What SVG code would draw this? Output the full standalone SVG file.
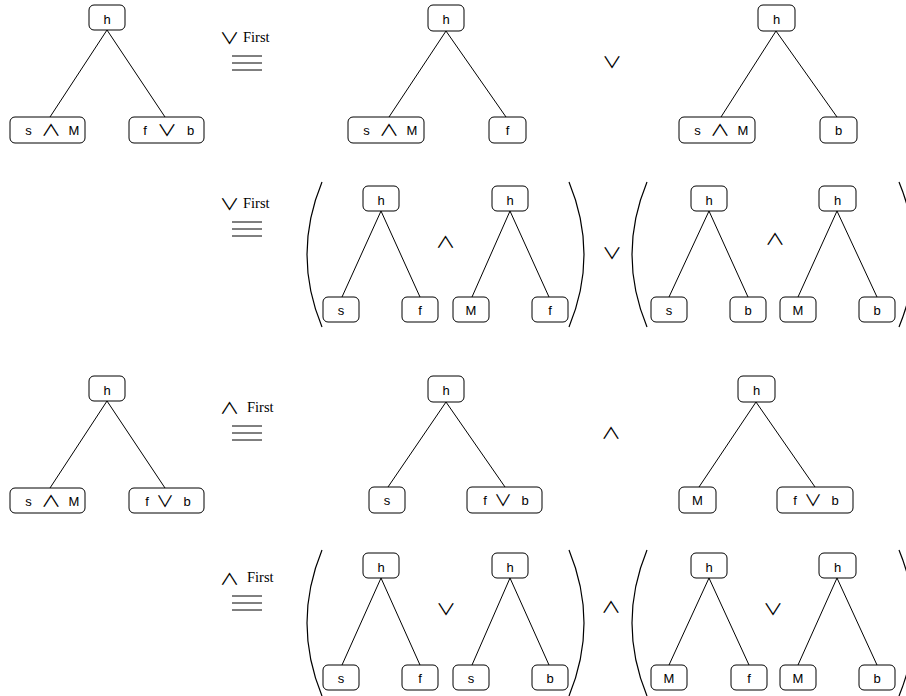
<svg xmlns="http://www.w3.org/2000/svg" width="906" height="696" viewBox="0 0 906 696">
<style>
.box{fill:#fff;stroke:#000;stroke-width:1}
.t{font-family:"Liberation Sans",Arial,sans-serif;font-size:13px;text-anchor:middle;fill:#000}
.o{font-family:"Noto Sans CJK JP","Noto Sans CJK SC","DejaVu Sans",sans-serif;font-size:16px;text-anchor:middle;fill:#000}
.fs{font-family:"Liberation Serif","Times New Roman",serif;font-size:14.5px;fill:#000}
.e{stroke:#000;stroke-width:1;fill:none}
.p{stroke:#000;stroke-width:1.2;fill:none}
</style>
<rect width="906" height="696" fill="#fff"/>
<g id="connectors">
<line class="e" x1="107" y1="30" x2="50" y2="117"/><line class="e" x1="107" y1="30" x2="165" y2="117"/>
<line class="e" x1="446" y1="31" x2="389" y2="117"/><line class="e" x1="446" y1="31" x2="506" y2="117"/>
<line class="e" x1="776" y1="31" x2="721" y2="117"/><line class="e" x1="776" y1="31" x2="837" y2="117"/>
<line class="e" x1="381" y1="211" x2="342" y2="297"/><line class="e" x1="381" y1="211" x2="420" y2="297"/>
<line class="e" x1="510" y1="211" x2="472" y2="297"/><line class="e" x1="510" y1="211" x2="549" y2="297"/>
<line class="e" x1="709" y1="211" x2="669" y2="297"/><line class="e" x1="709" y1="211" x2="748" y2="297"/>
<line class="e" x1="837" y1="211" x2="798" y2="297"/><line class="e" x1="837" y1="211" x2="877" y2="297"/>
<line class="e" x1="107" y1="401" x2="50" y2="488"/><line class="e" x1="107" y1="401" x2="165" y2="488"/>
<line class="e" x1="446" y1="402" x2="388" y2="487"/><line class="e" x1="446" y1="402" x2="505" y2="487"/>
<line class="e" x1="756" y1="402" x2="699" y2="487"/><line class="e" x1="756" y1="402" x2="815" y2="487"/>
<line class="e" x1="381" y1="578" x2="342" y2="665"/><line class="e" x1="381" y1="578" x2="420" y2="665"/>
<line class="e" x1="510" y1="578" x2="472" y2="665"/><line class="e" x1="510" y1="578" x2="549" y2="665"/>
<line class="e" x1="709" y1="578" x2="669" y2="665"/><line class="e" x1="709" y1="578" x2="749" y2="665"/>
<line class="e" x1="837" y1="578" x2="798" y2="665"/><line class="e" x1="837" y1="578" x2="877" y2="665"/>
</g>

<g id="r1a-h"><rect class="box" x="89" y="5" width="36" height="25" rx="5"/><text class="t" x="107" y="24">h</text></g>
<g id="r1a-l"><rect class="box" x="10" y="117" width="75" height="26" rx="5"/><text class="t" x="28.5" y="135">s</text><text class="o" x="51" y="136" textLength="20" lengthAdjust="spacingAndGlyphs">∧</text><text class="t" x="74" y="135">M</text></g>
<g id="r1a-r"><rect class="box" x="129" y="117" width="75" height="26" rx="5"/><text class="t" x="145" y="135">f</text><text class="o" x="167" y="136" textLength="20" lengthAdjust="spacingAndGlyphs">∨</text><text class="t" x="190.5" y="135">b</text></g>
<g id="r1-eq"><text class="o" x="229.5" y="44" textLength="20" lengthAdjust="spacingAndGlyphs">∨</text><text class="fs" x="243" y="42">First</text><line class="e" x1="232" y1="56" x2="262" y2="56"/><line class="e" x1="232" y1="63" x2="262" y2="63"/><line class="e" x1="232" y1="70" x2="262" y2="70"/></g>
<g id="r1b-h"><rect class="box" x="428" y="5" width="36" height="26" rx="5"/><text class="t" x="446" y="24">h</text></g>
<g id="r1b-l"><rect class="box" x="348" y="117" width="76" height="26" rx="5"/><text class="t" x="366.5" y="135">s</text><text class="o" x="389" y="136" textLength="20" lengthAdjust="spacingAndGlyphs">∧</text><text class="t" x="412" y="135">M</text></g>
<g id="r1b-r"><rect class="box" x="489" y="117" width="37" height="26" rx="5"/><text class="t" x="507.5" y="135">f</text></g>
<g id="r1-op"><text class="o" x="612" y="68" textLength="20" lengthAdjust="spacingAndGlyphs">∨</text></g>
<g id="r1c-h"><rect class="box" x="758" y="5" width="37" height="26" rx="5"/><text class="t" x="776.5" y="24">h</text></g>
<g id="r1c-l"><rect class="box" x="679" y="117" width="76" height="26" rx="5"/><text class="t" x="697.5" y="135">s</text><text class="o" x="720" y="136" textLength="20" lengthAdjust="spacingAndGlyphs">∧</text><text class="t" x="743" y="135">M</text></g>
<g id="r1c-r"><rect class="box" x="820" y="117" width="37" height="26" rx="5"/><text class="t" x="838.5" y="135">b</text></g>

<g id="r2-eq"><text class="o" x="229.5" y="210" textLength="20" lengthAdjust="spacingAndGlyphs">∨</text><text class="fs" x="243" y="208">First</text><line class="e" x1="232" y1="222" x2="262" y2="222"/><line class="e" x1="232" y1="229" x2="262" y2="229"/><line class="e" x1="232" y1="236" x2="262" y2="236"/></g>
<g id="r2-parens">
<path class="p" d="M322,182 Q292,254.5 322,327"/>
<path class="p" d="M569,182 Q599,254.5 569,327"/>
<path class="p" d="M647,182 Q617,254.5 647,327"/>
<path class="p" d="M899,182 Q929,254.5 899,327"/>
</g>
<g id="r2a-h"><rect class="box" x="363" y="186" width="36" height="25" rx="5"/><text class="t" x="381" y="205">h</text></g>
<g id="r2a-l"><rect class="box" x="323" y="297" width="36" height="25" rx="5"/><text class="t" x="341" y="315">s</text></g>
<g id="r2a-r"><rect class="box" x="402" y="297" width="36" height="25" rx="5"/><text class="t" x="420" y="315">f</text></g>
<g id="r2-op1"><text class="o" x="445.5" y="248" textLength="20" lengthAdjust="spacingAndGlyphs">∧</text></g>
<g id="r2b-h"><rect class="box" x="492" y="186" width="36" height="25" rx="5"/><text class="t" x="510" y="205">h</text></g>
<g id="r2b-l"><rect class="box" x="453" y="297" width="36" height="25" rx="5"/><text class="t" x="471" y="315">M</text></g>
<g id="r2b-r"><rect class="box" x="532" y="297" width="36" height="25" rx="5"/><text class="t" x="550" y="315">f</text></g>
<g id="r2-op2"><text class="o" x="612" y="259" textLength="20" lengthAdjust="spacingAndGlyphs">∨</text></g>
<g id="r2c-h"><rect class="box" x="691" y="186" width="36" height="25" rx="5"/><text class="t" x="709" y="205">h</text></g>
<g id="r2c-l"><rect class="box" x="651" y="297" width="36" height="25" rx="5"/><text class="t" x="669" y="315">s</text></g>
<g id="r2c-r"><rect class="box" x="730" y="297" width="36" height="25" rx="5"/><text class="t" x="748" y="315">b</text></g>
<g id="r2-op3"><text class="o" x="775" y="245" textLength="20" lengthAdjust="spacingAndGlyphs">∧</text></g>
<g id="r2d-h"><rect class="box" x="819" y="186" width="37" height="25" rx="5"/><text class="t" x="837.5" y="205">h</text></g>
<g id="r2d-l"><rect class="box" x="780" y="297" width="36" height="25" rx="5"/><text class="t" x="798" y="315">M</text></g>
<g id="r2d-r"><rect class="box" x="859" y="297" width="36" height="25" rx="5"/><text class="t" x="877" y="315">b</text></g>

<g id="r3a-h"><rect class="box" x="89" y="376" width="36" height="25" rx="5"/><text class="t" x="107" y="395">h</text></g>
<g id="r3a-l"><rect class="box" x="10" y="488" width="75" height="25" rx="5"/><text class="t" x="28.5" y="506">s</text><text class="o" x="51" y="507" textLength="20" lengthAdjust="spacingAndGlyphs">∧</text><text class="t" x="74" y="506">M</text></g>
<g id="r3a-r"><rect class="box" x="129" y="488" width="75" height="25" rx="5"/><text class="t" x="147" y="506">f</text><text class="o" x="165" y="507" textLength="18" lengthAdjust="spacingAndGlyphs">∨</text><text class="t" x="187" y="506">b</text></g>
<g id="r3-eq"><text class="o" x="229.5" y="414" textLength="20" lengthAdjust="spacingAndGlyphs">∧</text><text class="fs" x="247" y="412">First</text><line class="e" x1="232" y1="426" x2="262" y2="426"/><line class="e" x1="232" y1="433" x2="262" y2="433"/><line class="e" x1="232" y1="440" x2="262" y2="440"/></g>
<g id="r3b-h"><rect class="box" x="428" y="376" width="36" height="26" rx="5"/><text class="t" x="446" y="395">h</text></g>
<g id="r3b-l"><rect class="box" x="369" y="487" width="36" height="26" rx="5"/><text class="t" x="387" y="505">s</text></g>
<g id="r3b-r"><rect class="box" x="467" y="487" width="75" height="26" rx="5"/><text class="t" x="485" y="505">f</text><text class="o" x="503" y="506" textLength="18" lengthAdjust="spacingAndGlyphs">∨</text><text class="t" x="525" y="505">b</text></g>
<g id="r3-op"><text class="o" x="611" y="439" textLength="20" lengthAdjust="spacingAndGlyphs">∧</text></g>
<g id="r3c-h"><rect class="box" x="738" y="376" width="37" height="26" rx="5"/><text class="t" x="756.5" y="395">h</text></g>
<g id="r3c-l"><rect class="box" x="679" y="487" width="37" height="26" rx="5"/><text class="t" x="697.5" y="505">M</text></g>
<g id="r3c-r"><rect class="box" x="777" y="487" width="76" height="26" rx="5"/><text class="t" x="795" y="505">f</text><text class="o" x="813" y="506" textLength="18" lengthAdjust="spacingAndGlyphs">∨</text><text class="t" x="835" y="505">b</text></g>

<g id="r4-eq"><text class="o" x="229.5" y="585" textLength="20" lengthAdjust="spacingAndGlyphs">∧</text><text class="fs" x="247" y="582">First</text><line class="e" x1="232" y1="596" x2="262" y2="596"/><line class="e" x1="232" y1="603" x2="262" y2="603"/><line class="e" x1="232" y1="610" x2="262" y2="610"/></g>
<g id="r4-parens">
<path class="p" d="M322,550 Q292,623 322,696"/>
<path class="p" d="M569,550 Q599,623 569,696"/>
<path class="p" d="M647,550 Q617,623 647,696"/>
<path class="p" d="M899,550 Q929,623 899,696"/>
</g>
<g id="r4a-h"><rect class="box" x="363" y="553" width="36" height="25" rx="5"/><text class="t" x="381" y="572">h</text></g>
<g id="r4a-l"><rect class="box" x="323" y="665" width="36" height="25" rx="5"/><text class="t" x="341" y="683">s</text></g>
<g id="r4a-r"><rect class="box" x="402" y="665" width="36" height="25" rx="5"/><text class="t" x="420" y="683">f</text></g>
<g id="r4-op1"><text class="o" x="446" y="615" textLength="20" lengthAdjust="spacingAndGlyphs">∨</text></g>
<g id="r4b-h"><rect class="box" x="492" y="553" width="36" height="25" rx="5"/><text class="t" x="510" y="572">h</text></g>
<g id="r4b-l"><rect class="box" x="453" y="665" width="36" height="25" rx="5"/><text class="t" x="471" y="683">s</text></g>
<g id="r4b-r"><rect class="box" x="532" y="665" width="36" height="25" rx="5"/><text class="t" x="550" y="683">b</text></g>
<g id="r4-op2"><text class="o" x="611" y="613" textLength="20" lengthAdjust="spacingAndGlyphs">∧</text></g>
<g id="r4c-h"><rect class="box" x="691" y="553" width="36" height="25" rx="5"/><text class="t" x="709" y="572">h</text></g>
<g id="r4c-l"><rect class="box" x="651" y="665" width="36" height="25" rx="5"/><text class="t" x="669" y="683">M</text></g>
<g id="r4c-r"><rect class="box" x="731" y="665" width="36" height="25" rx="5"/><text class="t" x="749" y="683">f</text></g>
<g id="r4-op3"><text class="o" x="773" y="615" textLength="20" lengthAdjust="spacingAndGlyphs">∨</text></g>
<g id="r4d-h"><rect class="box" x="819" y="553" width="37" height="25" rx="5"/><text class="t" x="837.5" y="572">h</text></g>
<g id="r4d-l"><rect class="box" x="780" y="665" width="36" height="25" rx="5"/><text class="t" x="798" y="683">M</text></g>
<g id="r4d-r"><rect class="box" x="859" y="665" width="36" height="25" rx="5"/><text class="t" x="877" y="683">b</text></g>
</svg>
